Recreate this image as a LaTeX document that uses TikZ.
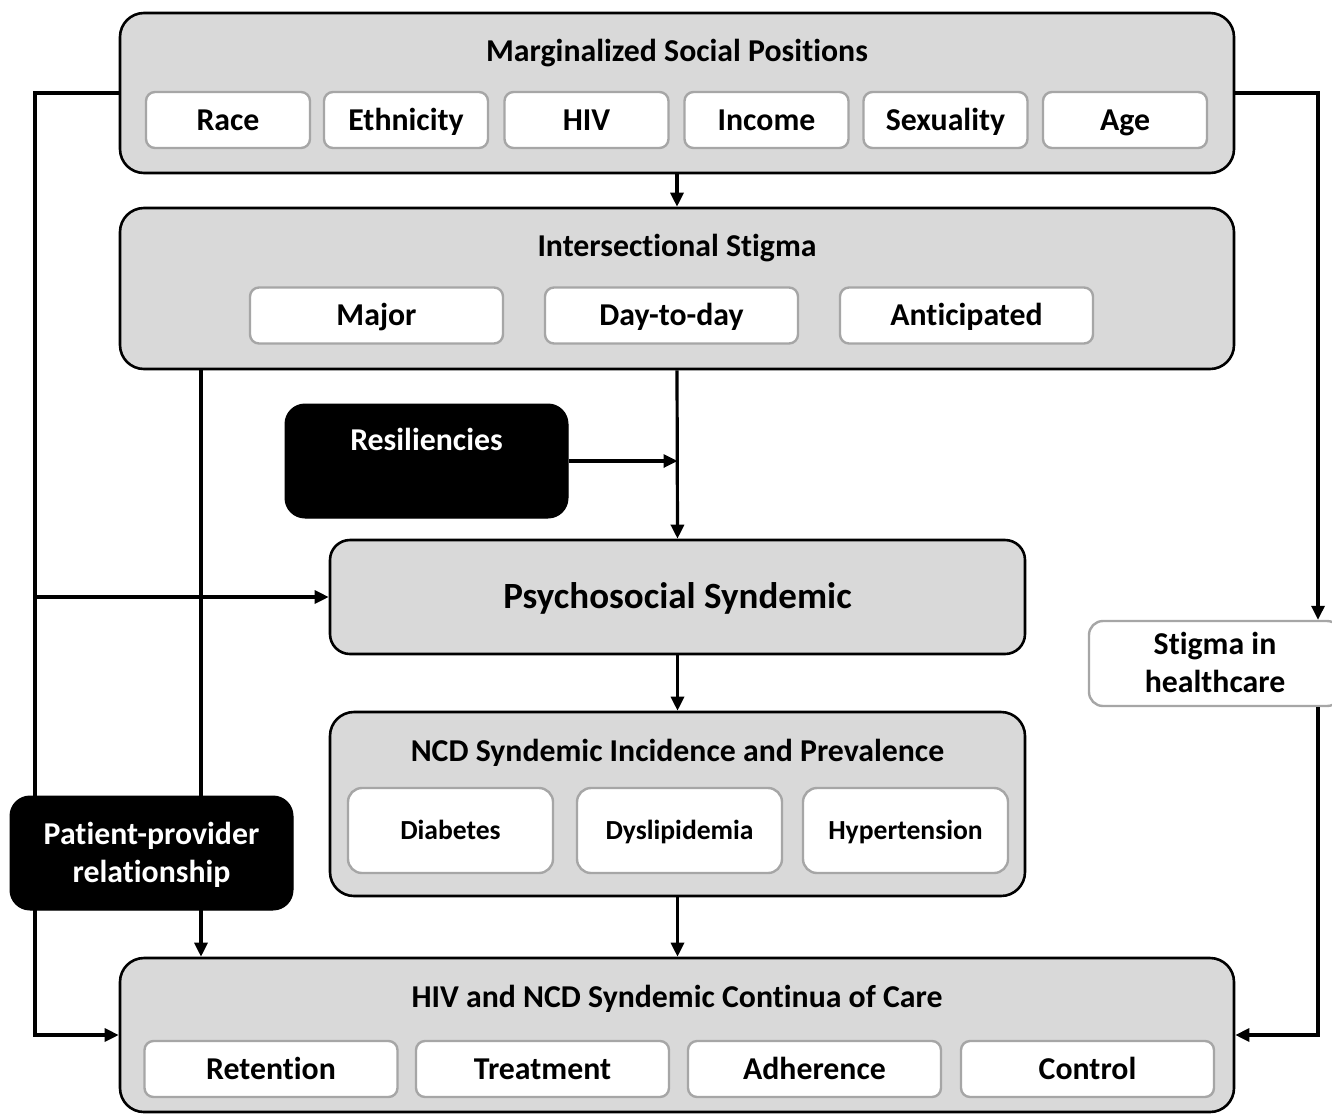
\documentclass[tikz,border=0pt]{standalone}
\usepackage{fontspec}
\setmainfont[Ligatures=NoCommon]{Carlito}
\usetikzlibrary{arrows.meta, positioning}
\definecolor{panelgray}{RGB}{217,217,217}
\definecolor{itemedge}{RGB}{166,166,166}

\begin{document}
\begin{tikzpicture}[x=1pt,y=1pt,yscale=-1,
  panel/.style={draw=black, line width=2.6pt, fill=panelgray, rounded corners=24pt, inner sep=0pt},
  item/.style={draw=itemedge, line width=2.4pt, fill=white, rounded corners=9pt, inner sep=0pt, text height=20.4pt, text depth=0pt, font=\fontsize{31.8}{38}\selectfont\bfseries},
  ncditem/.style={item, rounded corners=14pt, text height=17.8pt, font=\fontsize{27.6}{33}\selectfont\bfseries},
  title/.style={inner sep=0pt, text height=20.4pt, text depth=0pt, font=\fontsize{31.8}{38}\selectfont\bfseries},
  darkbox/.style={draw=black, fill=black, text=white, rounded corners=20pt, line width=1pt, inner sep=0pt, align=center, text height=58.4pt, text depth=0pt, font=\fontsize{31.8}{38}\selectfont\bfseries},
  link/.style={line width=3.2pt},
  flow/.style={line width=3.2pt, -{Triangle[length=14pt,width=13pt]}}
]
\useasboundingbox (0,0) rectangle (1332,1114);

% Marginalized social positions
\node[panel, minimum width=1114pt, minimum height=160pt] (mar) at (677,93) {};
\node[title] (martitle) at (677,51) {Marginalized Social Positions};
\node[item, minimum width=164pt, minimum height=56pt] (race) at (228,120) {Race};
\node[item, minimum width=164pt, minimum height=56pt] (ethn) at (406,120) {Ethnicity};
\node[item, minimum width=164pt, minimum height=56pt] (hiv) at (586.5,120) {HIV};
\node[item, minimum width=164pt, minimum height=56pt] (inc) at (766.5,120) {Income};
\node[item, minimum width=164pt, minimum height=56pt] (sex) at (945.5,120) {Sexuality};
\node[item, minimum width=164pt, minimum height=56pt] (age) at (1125,120) {Age};

% Intersectional stigma
\node[panel, minimum width=1114pt, minimum height=161pt] (inter) at (677,288.5) {};
\node[title] (intertitle) at (677,246) {Intersectional Stigma};
\node[item, minimum width=253pt, minimum height=56pt] (major) at (376.5,315.5) {Major};
\node[item, minimum width=253pt, minimum height=56pt] (daily) at (671.5,315.5) {Day-to-day};
\node[item, minimum width=253pt, minimum height=56pt] (antic) at (966.5,315.5) {Anticipated};

% Psychosocial syndemic
\node[panel, rounded corners=20pt, minimum width=695pt, minimum height=114pt, text height=23.8pt, text depth=0pt, font=\fontsize{37}{44}\selectfont\bfseries] (psy) at (677.5,597) {Psychosocial Syndemic};

% NCD syndemic
\node[panel, minimum width=695pt, minimum height=184pt] (ncd) at (677.5,804) {};
\node[title] (ncdtitle) at (677.5,751) {NCD Syndemic Incidence and Prevalence};
\node[ncditem, minimum width=205pt, minimum height=85pt] (diab) at (450.5,830.5) {Diabetes};
\node[ncditem, minimum width=205pt, minimum height=85pt] (dysl) at (679.5,830.5) {Dyslipidemia};
\node[ncditem, minimum width=205pt, minimum height=85pt] (hyper) at (905.5,830.5) {Hypertension};

% Continua of care
\node[panel, minimum width=1114pt, minimum height=154pt] (care) at (677,1035) {};
\node[title] (caretitle) at (677,997) {HIV and NCD Syndemic Continua of Care};
\node[item, minimum width=253pt, minimum height=56pt] (reten) at (271,1069) {Retention};
\node[item, minimum width=253pt, minimum height=56pt] (treat) at (542.5,1069) {Treatment};
\node[item, minimum width=253pt, minimum height=56pt] (adher) at (814.5,1069) {Adherence};
\node[item, minimum width=253pt, minimum height=56pt] (contr) at (1087.5,1069) {Control};

% Stigma in healthcare
\node[item, align=center, rounded corners=14pt, text height=58.4pt, minimum width=252pt, minimum height=85pt] (stig) at (1215,663.5) {Stigma in\\healthcare};

% Resiliencies
\node[darkbox, text height=0pt, minimum width=283pt, minimum height=114pt] (res) at (426.5,461) {};
\node[title, text=white] (restitle) at (426.5,440) {Resiliencies};

% connectors
\coordinate (lcorner) at (35,93);
\coordinate (rcorner) at (1318,93);
\coordinate (ibranch) at (201,369);
\draw[flow] (mar.south) -- (inter.north);
\draw[flow] (inter.south) -- (psy.north);
\draw[flow] (res.east) -- (res.east -| psy.north);
\draw[flow] (psy.south) -- (ncd.north);
\draw[flow] (ncd.south) -- (ncd.south |- care.north);
\draw[flow] (mar.west) -- (lcorner) |- (care.west);
\draw[flow] (lcorner |- psy.west) -- (psy.west);
\draw[flow] (ibranch) -- (ibranch |- care.north);
\draw[flow] (mar.east) -- (rcorner) -- (rcorner |- stig.north);
\draw[flow] (stig.south -| rcorner) |- (care.east);

% Patient-provider relationship
\node[darkbox, minimum width=283pt, minimum height=114pt] (pat) at (151.5,853) {Patient-provider\\relationship};

\end{tikzpicture}
\end{document}
